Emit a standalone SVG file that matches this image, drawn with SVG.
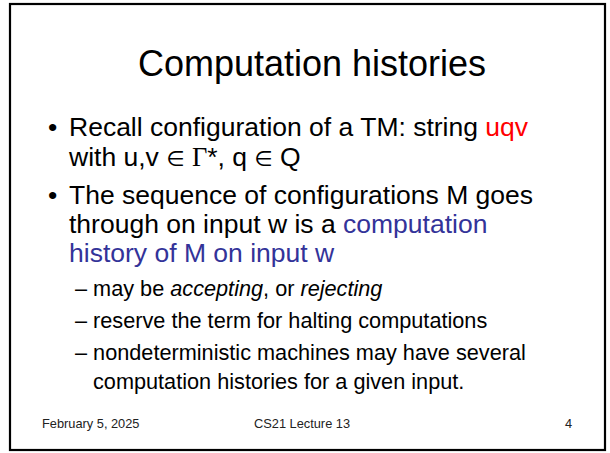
<svg xmlns="http://www.w3.org/2000/svg" width="610" height="453" viewBox="0 0 610 453">
  <style>
    text { font-family: "Liberation Sans", Arial, Helvetica, sans-serif; fill: #000; }
    .title { font-size: 36px; text-anchor: middle; }
    .main { font-size: 26.5px; }
    .sub { font-size: 21.7px; }
    .foot { font-size: 12.8px; fill: #222; }
    .red { fill: #ff0000; }
    .blue { fill: #333399; }
    .sym { font-family: "Liberation Serif", "Times New Roman", serif; }
    .elem { font-family: "DejaVu Sans", sans-serif; font-size: 21px; }
  </style>
  <rect x="0" y="0" width="610" height="453" fill="#fff"/>
  <!-- slide frame -->
  <rect x="10" y="4" width="595" height="446" fill="none" stroke="#000" stroke-width="2.2"/>

  <text class="title" x="312" y="76">Computation histories</text>

  <g id="bullet-1">
    <text class="main" x="48" y="136">•</text>
    <text class="main" x="69" y="136">Recall configuration of a TM: string <tspan class="red">uqv</tspan></text>
    <text class="main" x="69" y="166">with u,v <tspan class="elem">∈</tspan> <tspan class="sym">Γ</tspan>*, q <tspan class="elem">∈</tspan> Q</text>
  </g>

  <g id="bullet-2">
    <text class="main" x="48" y="204">•</text>
    <text class="main" x="69" y="204">The sequence of configurations M goes</text>
    <text class="main" x="69" y="233">through on input w is a <tspan class="blue">computation</tspan></text>
    <text class="main blue" x="69" y="262">history of M on input w</text>
  </g>

  <g id="sub-bullets">
    <text class="sub" x="75" y="296">– may be <tspan font-style="italic">accepting</tspan>, or <tspan font-style="italic">rejecting</tspan></text>
    <text class="sub" x="75" y="328">– reserve the term for halting computations</text>
    <text class="sub" x="75" y="360">– nondeterministic machines may have several</text>
    <text class="sub" x="93" y="389">computation histories for a given input.</text>
  </g>

  <g id="footer">
    <text class="foot" x="42" y="428">February 5, 2025</text>
    <text class="foot" x="254" y="428">CS21 Lecture 13</text>
    <text class="foot" x="572" y="428" text-anchor="end">4</text>
  </g>
</svg>
